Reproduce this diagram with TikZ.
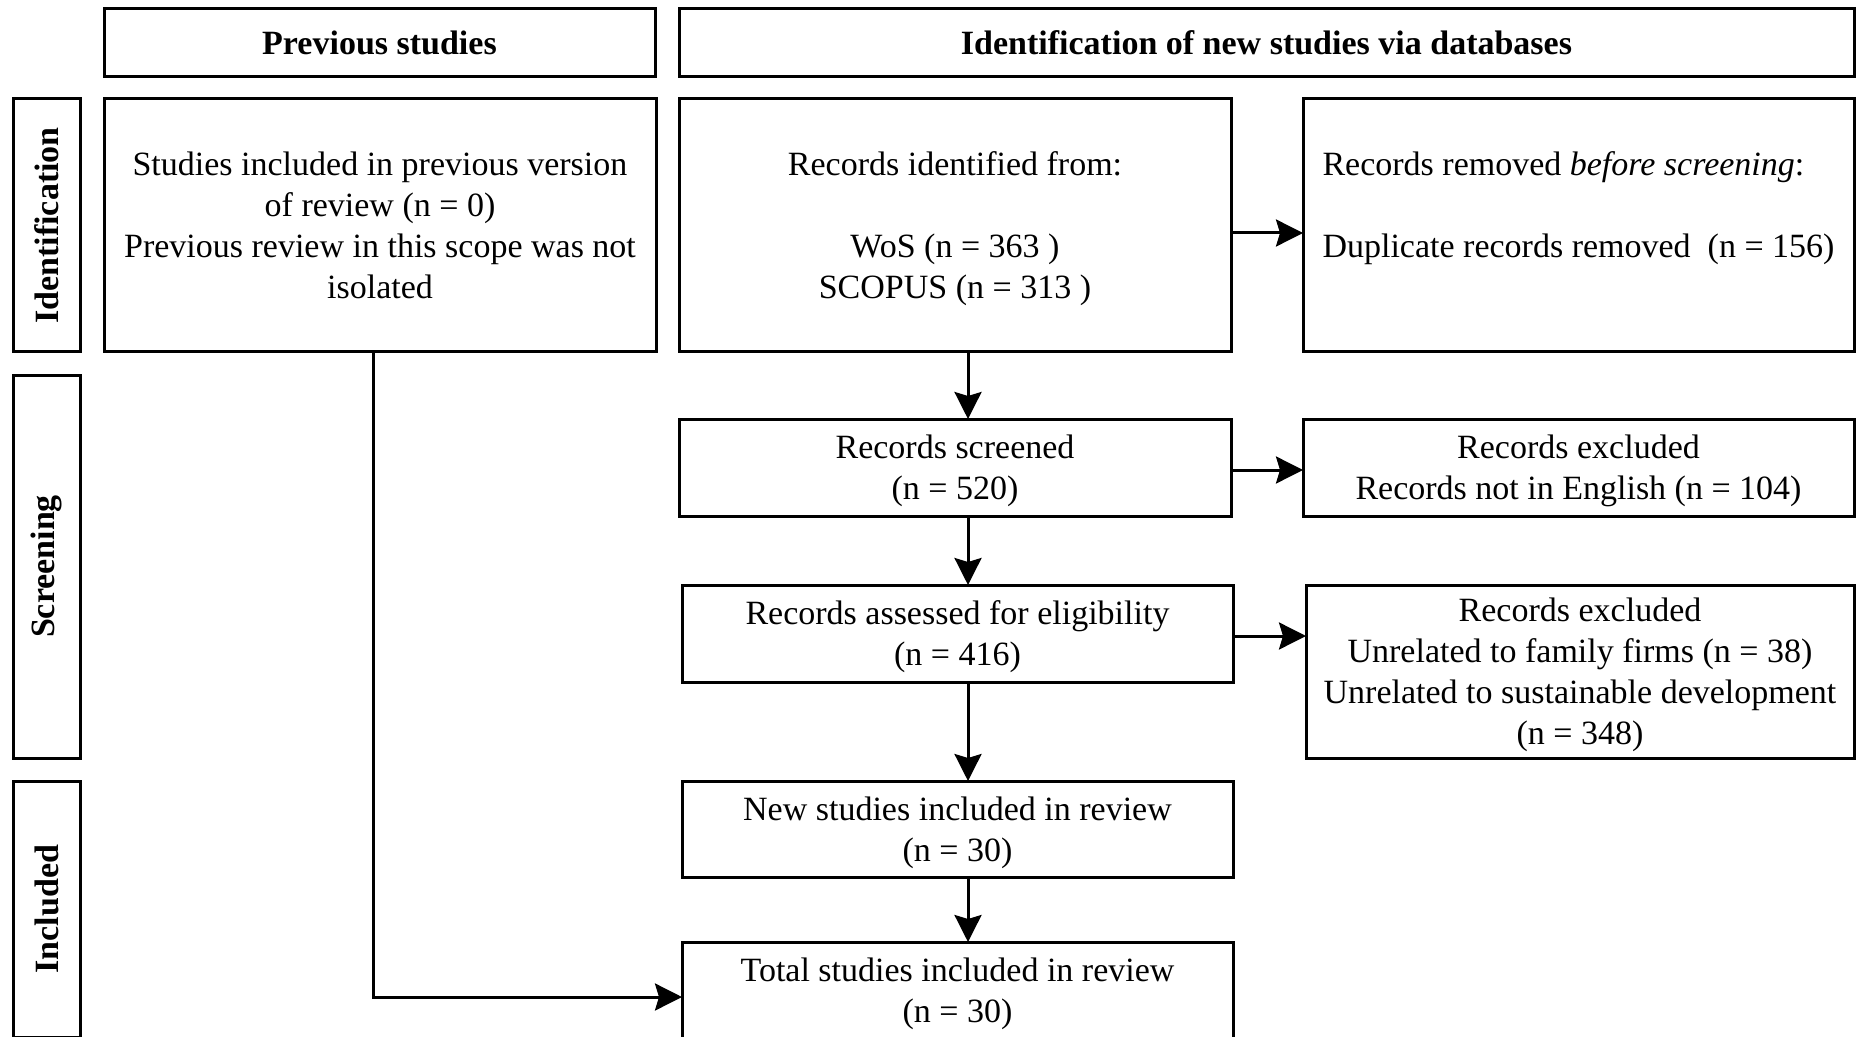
\documentclass[tikz,border=0pt]{standalone}
\usepackage{fontspec}
\setmainfont{Liberation Serif}
\usetikzlibrary{arrows.meta}
\newcommand\tstrut{\rule{0pt}{17.8pt}}
\begin{document}
\begin{tikzpicture}[x=0.5pt,y=-0.5pt,
  box/.style={draw,line width=1.5pt,inner sep=0pt,outer sep=0pt,align=center,
    font=\fontsize{17pt}{20.4pt}\selectfont},
  hdr/.style={box,font=\fontsize{17pt}{20.4pt}\selectfont\bfseries,minimum height=34pt},
  side/.style={box,rotate=90,font=\fontsize{17pt}{20.4pt}\selectfont\bfseries,minimum height=33.5pt},
  arr/.style={line width=1.5pt,-{Stealth[length=13.5pt,width=13.5pt,inset=2pt]}},
  conn/.style={line width=1.5pt}]
\useasboundingbox (0,0) rectangle (1856,1037);
\clip (0,0) rectangle (1856,1037);
% headers
\node[hdr,minimum width=275.5pt] (h1) at (379.5,43) {Previous studies};
\node[hdr,minimum width=587.5pt] (h2) at (1266.5,43) {Identification of new studies via databases};
% side labels
\node[side,minimum width=126.5pt] (sid) at (46.5,225.5) {Identification};
\node[side,minimum width=191.5pt] (sscr) at (46.5,566.5) {Screening};
\node[side,minimum width=128pt] (sinc) at (46.5,909) {Included};
% boxes
\node[box,minimum width=276pt,minimum height=126.5pt] (prev) at (380,225.5)
  {\tstrut Studies included in previous version\\of review (n = 0)\\Previous review in this scope was not\\isolated\strut};
\node[box,minimum width=276pt,minimum height=126.5pt] (ident) at (955,225.5)
  {\tstrut Records identified from:\\\strut\\WoS (n = 363 )\\SCOPUS (n = 313 )\strut};
\node[box,minimum width=275.5pt,minimum height=126.5pt,align=left] (rem) at (1578.5,225.5)
  {\tstrut Records removed \textit{before screening}:\\\strut\\Duplicate records removed\ \ (n = 156)\\\strut};
\node[box,minimum width=276pt,minimum height=48.5pt] (scr) at (955,467.5)
  {\tstrut Records screened\\(n = 520)\strut};
\node[box,minimum width=275.5pt,minimum height=48.5pt] (ex1) at (1578.5,467.5)
  {\tstrut Records excluded\\Records not in English (n = 104)\strut};
\node[box,minimum width=275.5pt,minimum height=48.5pt] (ass) at (957.5,633.5)
  {\tstrut Records assessed for eligibility\\(n = 416)\strut};
\node[box,minimum width=274pt,minimum height=86.5pt] (ex2) at (1580,671.5)
  {\tstrut Records excluded\\Unrelated to family firms (n = 38)\\Unrelated to sustainable development\\(n = 348)\strut};
\node[box,minimum width=275.5pt,minimum height=48pt] (new) at (957.5,829)
  {\tstrut New studies included in review\\(n = 30)\strut};
\node[box,minimum width=275.5pt,minimum height=48.5pt] (tot) at (957.5,990.5)
  {\tstrut Total studies included in review\\(n = 30)\strut};
% helper coordinates
\coordinate (ax) at (968,0);
\coordinate (r1) at (0,233);
\coordinate (r2) at (0,470);
\coordinate (r3) at (0,636);
\coordinate (pl) at (373,997);
% connectors
\draw[arr] (ident.south -| ax) -- (scr.north -| ax);
\draw[arr] (scr.south -| ax) -- (ass.north -| ax);
\draw[arr] (ass.south -| ax) -- (new.north -| ax);
\draw[arr] (new.south -| ax) -- (tot.north -| ax);
\draw[arr] (ident.east |- r1) -- (rem.west |- r1);
\draw[arr] (scr.east |- r2) -- (ex1.west |- r2);
\draw[arr] (ass.east |- r3) -- (ex2.west |- r3);
\draw[arr] (prev.south -| pl) |- (tot.west |- pl);
\end{tikzpicture}
\end{document}
